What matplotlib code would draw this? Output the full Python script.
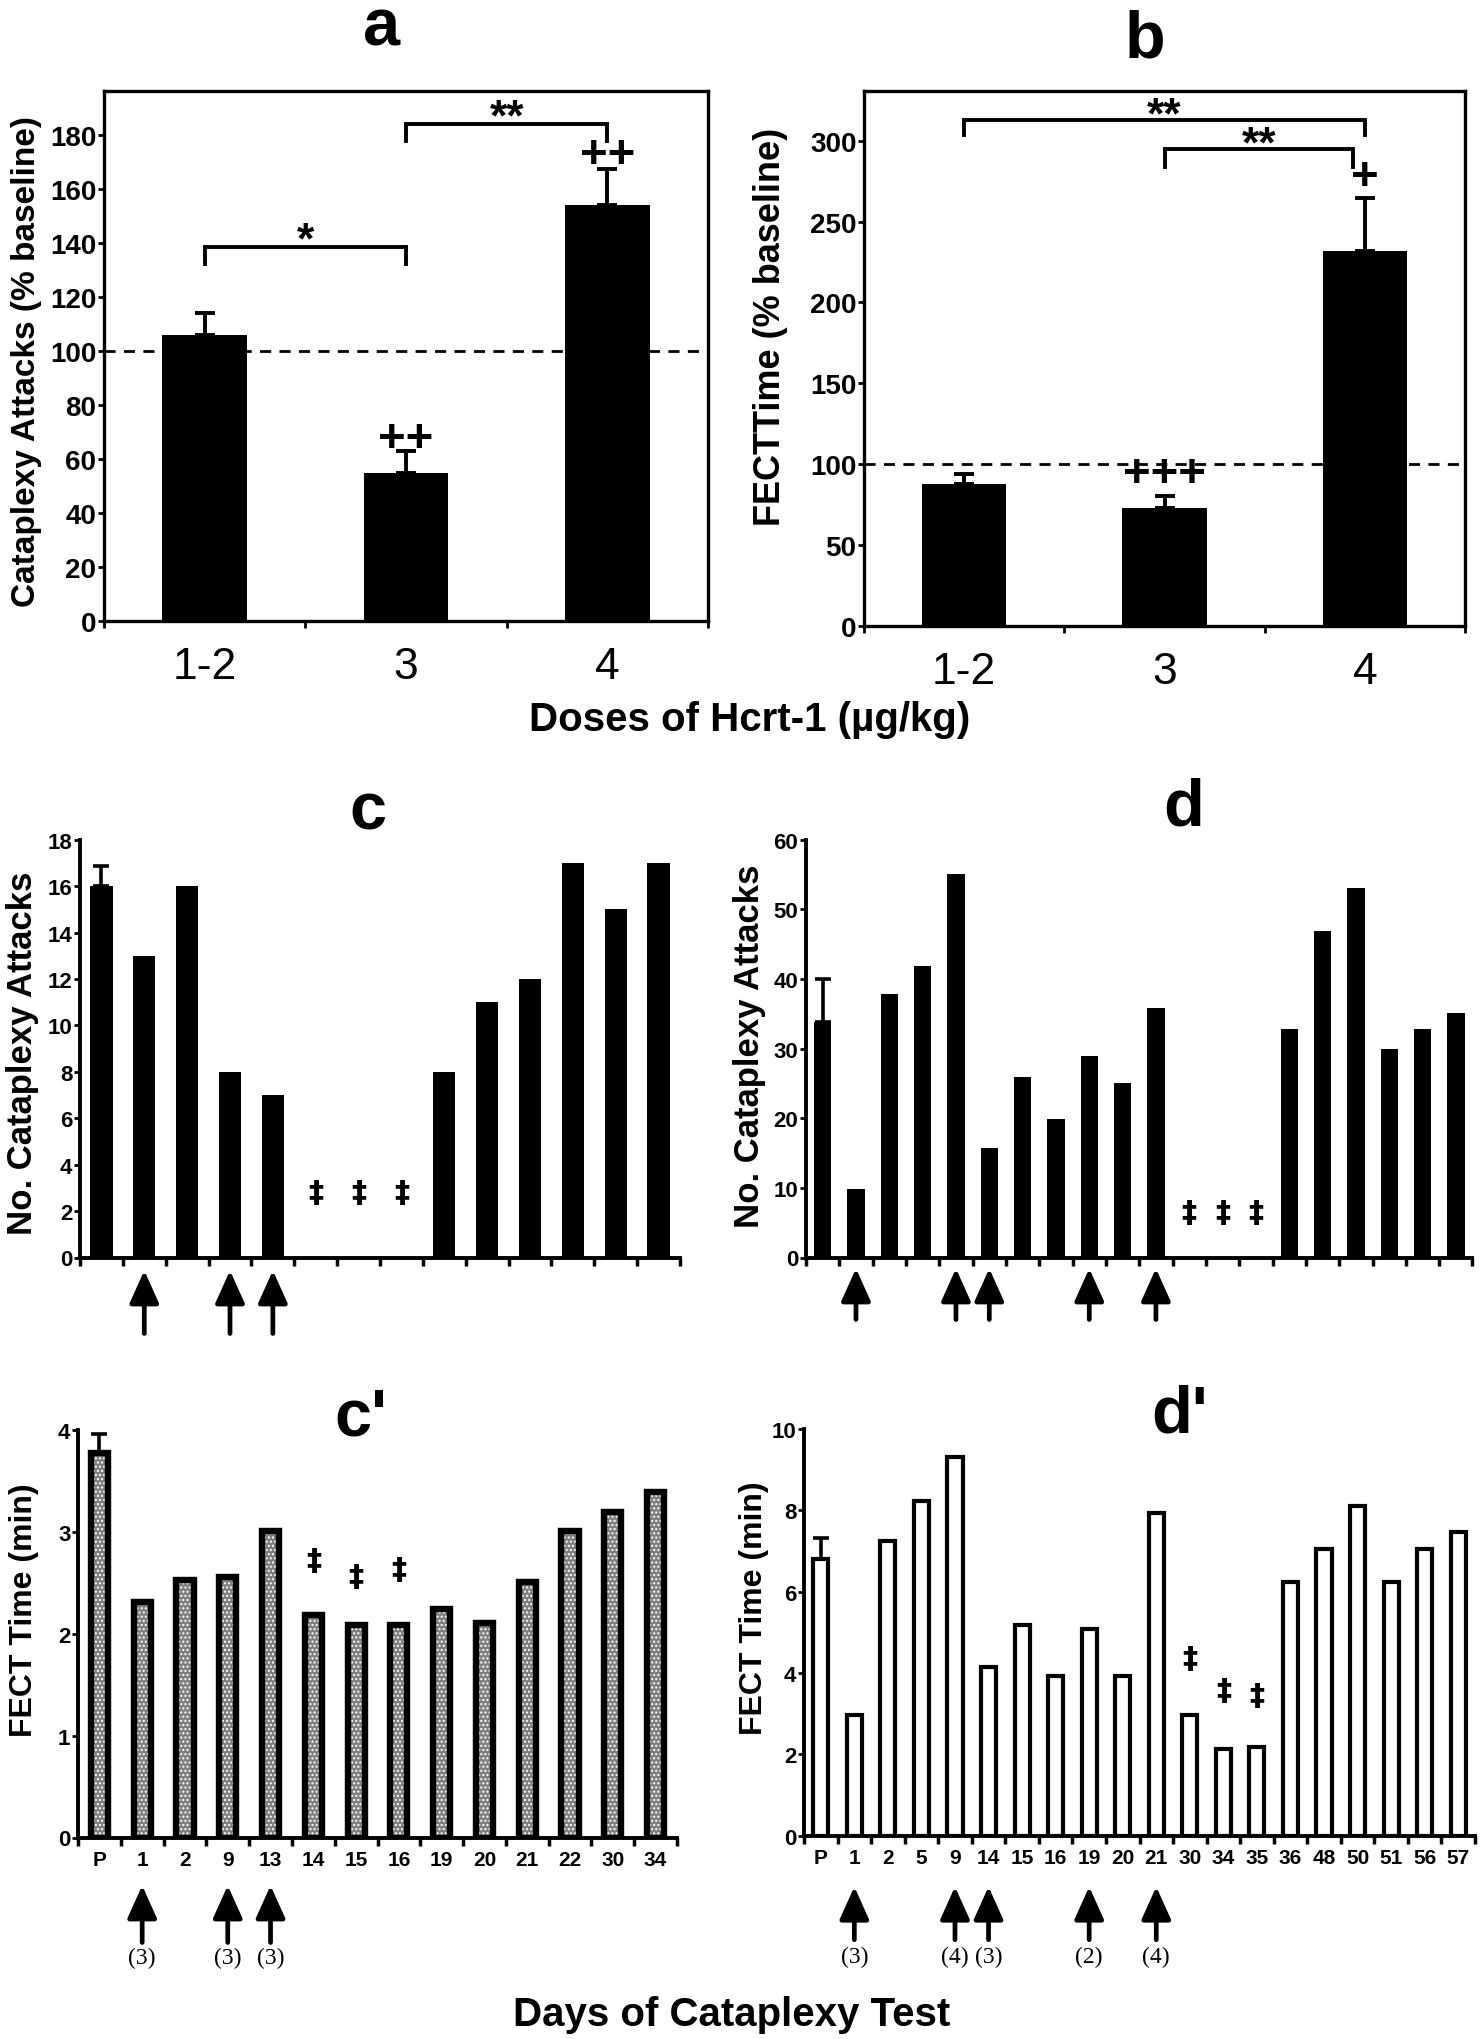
import numpy as np
import matplotlib
matplotlib.use('Agg')
import matplotlib.pyplot as plt

plt.rcParams['font.family'] = ['Liberation Sans', 'DejaVu Sans']
plt.rcParams['axes.linewidth'] = 2.4
plt.rcParams['hatch.linewidth'] = 1.0

# ------------------------------------------------------------------ data
dose_labels = ['1-2', '3', '4']
attacks_pct = [106, 55, 154]
attacks_pct_err = [8, 8, 13.5]
fect_pct = [87.5, 73, 232]
fect_pct_err = [6.3, 7.5, 32.5]
baseline_pct = 100

# significance marks (panel a / b)
a_brackets = [('1-2', '3', '*'), ('3', '4', '**')]
a_bracket_y = [138.6, 184.0]
a_plus = ['', '++', '++']
a_plus_y = [0, 69, 174]
b_brackets = [('1-2', '4', '**'), ('3', '4', '**')]
b_bracket_y = [313.0, 295.0]
b_plus = ['', '+++', '+']
b_plus_y = [0, 96.5, 280]

# dog c
c_days = ['P', '1', '2', '9', '13', '14', '15', '16', '19', '20', '21', '22', '30', '34']
c_attacks = [16, 13, 16, 8, 7, 0, 0, 0, 8, 11, 12, 17, 15, 17]
c_attacks_err_P = 0.85
c_fect = [3.77, 2.31, 2.53, 2.56, 3.01, 2.18, 2.09, 2.09, 2.24, 2.11, 2.51, 3.01, 3.20, 3.39]
c_fect_err_P = 0.19
c_sig_days = ['14', '15', '16']
c_attacks_sig_y = [2.8, 2.8, 2.8]
c_fect_sig_y = [2.72, 2.56, 2.63]
c_inject_days = ['1', '9', '13']
c_inject_doses = ['(3)', '(3)', '(3)']

# dog d
d_days = ['P', '1', '2', '5', '9', '14', '15', '16', '19', '20', '21', '30', '34', '35',
          '36', '48', '50', '51', '56', '57']
d_attacks = [33.8, 9.8, 37.9, 41.9, 55.1, 15.7, 25.9, 19.9, 28.9, 25.0, 35.9, 0, 0, 0,
             32.8, 46.9, 53.1, 30.0, 32.8, 35.1]
d_attacks_err_P = 6.2
d_fect = [6.80, 2.96, 7.25, 8.22, 9.32, 4.15, 5.19, 3.93, 5.09, 3.93, 7.94, 2.96, 2.12, 2.17,
          6.23, 7.04, 8.10, 6.25, 7.04, 7.46]
d_fect_err_P = 0.51
d_sig_days = ['30', '34', '35']
d_attacks_sig_y = [6.4, 6.4, 6.4]
d_fect_sig_y = [4.36, 3.57, 3.44]
d_inject_days = ['1', '9', '14', '19', '21']
d_inject_doses = ['(3)', '(4)', '(3)', '(2)', '(4)']

# ------------------------------------------------------------------ figure
W, H = 1481, 2040
fig = plt.figure(figsize=(W / 100, H / 100), dpi=100)


def px_rect(l, t, r, b):
    return [l / W, 1 - b / H, (r - l) / W, (b - t) / H]


def fig_text(x, y, s, **kw):
    fig.text(x / W, 1 - y / H, s, **kw)


def top_panel(rect, vals, errs, ymax, yticks, ylabel, ylabel_xy, ylabel_fs):
    ax = fig.add_axes(px_rect(*rect))
    x = np.arange(len(vals))
    ax.bar(x, vals, width=0.42, color='black', zorder=3)
    ax.errorbar(x, vals, yerr=[np.zeros(len(vals)), errs], fmt='none', ecolor='black',
                elinewidth=2.8, capsize=7, capthick=2.8, zorder=4)
    ax.axhline(baseline_pct, color='black', lw=2, ls=(0, (4, 3)), zorder=2)
    ax.set_xlim(-0.5, len(vals) - 0.5)
    ax.set_ylim(0, ymax)
    ax.set_xticks(x)
    ax.set_xticklabels(dose_labels, fontsize=32)
    ax.set_xticks(np.arange(len(vals) + 1) - 0.5, minor=True)
    ax.tick_params(axis='x', which='major', length=0, pad=18)
    ax.tick_params(axis='x', which='minor', length=5, width=2, direction='out')
    ax.set_yticks(yticks)
    ax.tick_params(axis='y', length=4, width=2, pad=1.5, labelsize=20)
    for lab in ax.get_yticklabels():
        lab.set_fontweight('bold')
    fig_text(*ylabel_xy, ylabel, rotation=90, ha='center', va='center',
             fontsize=ylabel_fs, fontweight='bold')
    return ax


def bracket(ax, x0, x1, y, drop, label, lab_dy):
    ax.plot([x0, x0, x1, x1], [y - drop, y, y, y - drop], color='black', lw=2.8,
            solid_joinstyle='miter', zorder=5, clip_on=False)
    ax.text((x0 + x1) / 2, y + lab_dy, label, ha='center', va='center', fontsize=32,
            fontweight='bold')


# ---------------- panel a
ax_a = top_panel((104, 91.5, 708, 622), attacks_pct, attacks_pct_err, 196.5,
                 np.arange(0, 181, 20), 'Cataplexy Attacks (% baseline)', (27, 362), 24)
for (l, r, s), y in zip(a_brackets, a_bracket_y):
    bracket(ax_a, dose_labels.index(l), dose_labels.index(r), y, 6.2, s, 2.2)
for i, (s, y) in enumerate(zip(a_plus, a_plus_y)):
    if s:
        ax_a.text(i, y - 1.5, s, ha='center', va='center', fontsize=34, fontweight='bold')

# ---------------- panel b
ax_b = top_panel((864, 91.5, 1465, 627), fect_pct, fect_pct_err, 331,
                 np.arange(0, 301, 50), 'FECTTime (% baseline)', (770, 327), 26)
bracket(ax_b, 0, 2, b_bracket_y[0], 9.5, b_brackets[0][2], 2.5)
bracket(ax_b, 1, 1.94, b_bracket_y[1], 11, b_brackets[1][2], 2.5)
for i, (s, y) in enumerate(zip(b_plus, b_plus_y)):
    if s:
        ax_b.text(i, y - 2.4, s, ha='center', va='center', fontsize=34, fontweight='bold')

fig_text(382, 46, 'a', ha='center', va='baseline', fontsize=48, fontweight='bold')
fig_text(1145, 57, 'b', ha='center', va='baseline', fontsize=48, fontweight='bold')
fig_text(750, 720, 'Doses of Hcrt-1 (µg/kg)', ha='center', va='center', fontsize=29,
         fontweight='bold')


# ---------------- day panels
def day_panel(rect, days, vals, err_P, ymax, yticks, bar_w, face, edge_lw, ylabel,
              ylabel_xy, ylabel_fs, show_days, hatch=None):
    ax = fig.add_axes(px_rect(*rect))
    x = np.arange(len(vals))
    if hatch:
        ax.bar(x, vals, width=bar_w, color=face, edgecolor='white', linewidth=0,
               hatch=hatch, zorder=2)
        ax.bar(x, vals, width=bar_w, facecolor='none', edgecolor='black',
               linewidth=edge_lw, zorder=3)
    else:
        ax.bar(x, vals, width=bar_w, color=face, edgecolor='black', linewidth=edge_lw,
               zorder=3)
    ax.errorbar([0], [vals[0]], yerr=[[0], [err_P]], fmt='none', ecolor='black',
                elinewidth=2.6, capsize=6, capthick=2.6, zorder=4)
    ax.set_xlim(-0.5, len(vals) - 0.5)
    ax.set_ylim(0, ymax)
    ax.spines['top'].set_visible(False)
    ax.spines['right'].set_visible(False)
    ax.spines['left'].set_linewidth(2.8)
    ax.spines['bottom'].set_linewidth(2.8)
    ax.set_xticks(x)
    if show_days:
        ax.set_xticklabels(days, fontsize=15, fontweight='bold')
    else:
        ax.set_xticklabels([])
    ax.set_xticks(np.arange(len(vals) + 1) - 0.5, minor=True)
    ax.tick_params(axis='x', which='major', length=0, pad=9)
    ax.tick_params(axis='x', which='minor', length=6, width=2.5, direction='out')
    ax.set_yticks(yticks)
    ax.tick_params(axis='y', length=4, width=2, pad=1.5, labelsize=16)
    for lab in ax.get_yticklabels():
        lab.set_fontweight('bold')
    fig_text(*ylabel_xy, ylabel, rotation=90, ha='center', va='center',
             fontsize=ylabel_fs, fontweight='bold')
    return ax


def marks(ax, days, sig_days, sig_y):
    for dday, y in zip(sig_days, sig_y):
        ax.text(days.index(dday), y, '‡', ha='center', va='center', fontsize=22,
                fontweight='bold', family='DejaVu Sans')


def arrows(ax, days, inj_days, tip_px, tail_px, doses=None, label_px=None):
    h_px = ax.get_position().height * H
    tr = ax.get_xaxis_transform()
    for k, dday in enumerate(inj_days):
        xi = days.index(dday)
        ax.annotate('', xy=(xi, -tip_px / h_px), xytext=(xi, -tail_px / h_px),
                    xycoords=tr, textcoords=tr, annotation_clip=False,
                    arrowprops=dict(arrowstyle='-|>,head_length=2.0,head_width=0.9',
                                    mutation_scale=10, lw=3.4, color='black',
                                    shrinkA=0, shrinkB=0))
        if doses:
            ax.text(xi, -label_px / h_px, doses[k], transform=tr, ha='center',
                    va='center', fontsize=17, family='Liberation Serif',
                    clip_on=False)


ax_c = day_panel((80, 840.7, 680, 1258.5), c_days, c_attacks, c_attacks_err_P, 18,
                 np.arange(0, 19, 2), 0.52, 'black', 0, 'No. Cataplexy Attacks',
                 (23, 1053), 25, False)
marks(ax_c, c_days, c_sig_days, c_attacks_sig_y)
arrows(ax_c, c_days, c_inject_days, 13, 76)

ax_d = day_panel((806, 840.7, 1472.5, 1258.5), d_days, d_attacks, d_attacks_err_P, 60,
                 np.arange(0, 61, 10), 0.52, 'black', 0, 'No. Cataplexy Attacks',
                 (750, 1046), 25, False)
marks(ax_d, d_days, d_sig_days, d_attacks_sig_y)
arrows(ax_d, d_days, d_inject_days, 11, 62)

ax_cp = day_panel((78, 1431, 677, 1838.5), c_days, c_fect, c_fect_err_P, 4,
                  np.arange(0, 5, 1), 0.40, '#7f7f7f', 4.6, 'FECT Time (min)',
                  (24, 1610), 23, True, hatch='....')
marks(ax_cp, c_days, c_sig_days, c_fect_sig_y)
arrows(ax_cp, c_days, c_inject_days, 48, 105, c_inject_doses, 120)

ax_dp = day_panel((804, 1430, 1475, 1836.7), d_days, d_fect, d_fect_err_P, 10,
                  np.arange(0, 11, 2), 0.45, 'white', 3.0, 'FECT Time (min)',
                  (754, 1608), 23, True)
marks(ax_dp, d_days, d_sig_days, d_fect_sig_y)
arrows(ax_dp, d_days, d_inject_days, 51, 104, d_inject_doses, 121)

fig_text(368, 830, 'c', ha='center', va='baseline', fontsize=48, fontweight='bold')
fig_text(1184, 826, 'd', ha='center', va='baseline', fontsize=48, fontweight='bold')
fig_text(361, 1435, "c'", ha='center', va='baseline', fontsize=48, fontweight='bold')
fig_text(1180, 1433, "d'", ha='center', va='baseline', fontsize=48, fontweight='bold')
fig_text(732, 2015, 'Days of Cataplexy Test', ha='center', va='center', fontsize=29,
         fontweight='bold')

fig.savefig('out.png', dpi=100)
